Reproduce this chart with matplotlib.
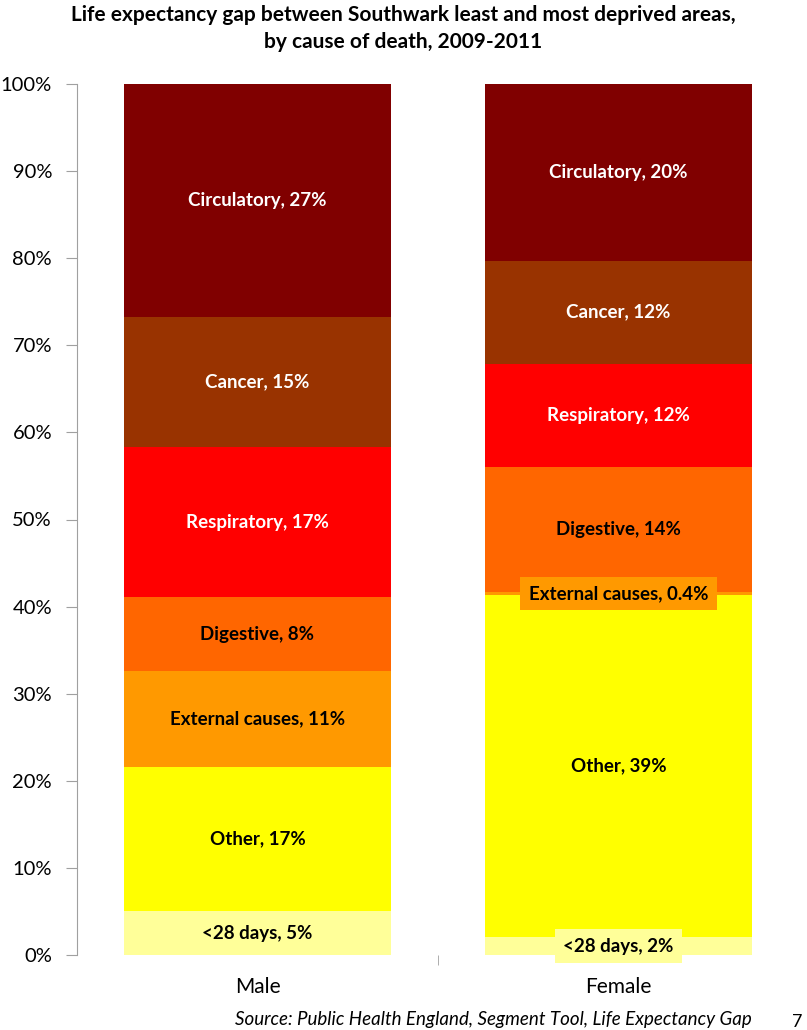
import matplotlib.pyplot as plt
import numpy as np

plt.rcParams['font.family'] = ['Lato', 'DejaVu Sans']

groups = ['Male', 'Female']
causes = ['<28 days', 'Other', 'External causes', 'Digestive',
          'Respiratory', 'Cancer', 'Circulatory']
male = [5.05, 16.55, 11.0, 8.5, 17.2, 15.0, 26.7]
female = [2.1, 39.2, 0.4, 14.3, 11.9, 11.8, 20.3]
male_labels = ['5%', '17%', '11%', '8%', '17%', '15%', '27%']
female_labels = ['2%', '39%', '0.4%', '14%', '12%', '12%', '20%']

colors = ['#FFFF99', '#FFFF00', '#FF9900', '#FF6600', '#FF0000', '#993300', '#800000']
text_colors = ['black', 'black', 'black', 'black', 'white', 'white', 'white']


def draw_stack(ax, xpos, values, labels, width):
    bottom = 0
    for i, v in enumerate(values):
        ax.bar(xpos, v, width, bottom=bottom, color=colors[i], edgecolor='none')
        mid = bottom + v / 2
        txt = f"{causes[i]}, {labels[i]}"
        box = None
        # small segments get a boxed label like the Excel original
        if v < 3:
            box = dict(boxstyle='square,pad=0.45', facecolor=colors[i], edgecolor='none')
            if i == 0:
                mid = 1.0
        ax.text(xpos, mid, txt, ha='center', va='center', fontsize=13.5,
                fontweight='bold', color=text_colors[i], bbox=box, zorder=5)
        bottom += v


fig = plt.figure(figsize=(8.07, 10.30), dpi=100)
ax = fig.add_axes([77 / 807, 1 - 955 / 1030, 722 / 807, 871 / 1030])

width = 0.74
draw_stack(ax, 0, male, male_labels, width)
draw_stack(ax, 1, female, female_labels, width)

ax.set_xlim(-0.5, 1.5)
ax.set_ylim(0, 100)
ax.set_yticks(np.arange(0, 101, 10))
ax.set_yticklabels([f"{t}%" for t in range(0, 101, 10)], fontsize=14.5)
ax.set_xticks([0, 1])
ax.set_xticklabels(groups, fontsize=15)
ax.set_xticks([0.5], minor=True)
ax.tick_params(axis='x', which='major', length=0, pad=16)
ax.tick_params(axis='x', which='minor', length=7, color='#A0A0A0', direction='out')
ax.tick_params(axis='y', length=8, color='#A0A0A0', direction='out', pad=10)

for s in ['top', 'right', 'bottom']:
    ax.spines[s].set_visible(False)
ax.spines['left'].set_color('#A0A0A0')

fig.text(0.5, 0.995, "Life expectancy gap between Southwark least and most deprived areas,\nby cause of death, 2009-2011",
         ha='center', va='top', fontsize=15, fontweight='bold', linespacing=1.45)
fig.text(235 / 807, 1 - 1020 / 1030, "Source: Public Health England, Segment Tool, Life Expectancy Gap",
         ha='left', va='center', fontsize=13.5, style='italic')
fig.text(797 / 807, 1 - 1022 / 1030, "7", ha='center', va='center', fontsize=13)

fig.savefig('out.png', dpi=100)
